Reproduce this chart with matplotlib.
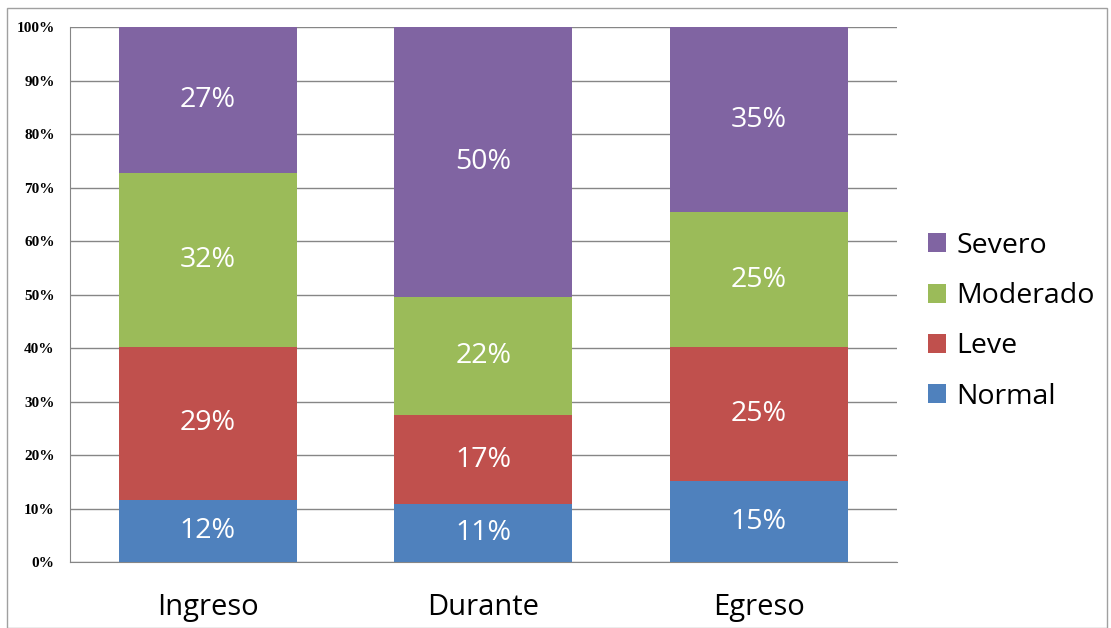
import matplotlib.pyplot as plt
from matplotlib.patches import Rectangle
import numpy as np

# datos
categorias = ['Ingreso', 'Durante', 'Egreso']
series = ['Normal', 'Leve', 'Moderado', 'Severo']
normal = [11.6, 10.8, 15.1]
leve = [28.6, 16.7, 25.1]
moderado = [32.5, 22.1, 25.2]
severo = [27.3, 50.4, 34.6]
etiquetas = {
    'Normal': ['12%', '11%', '15%'],
    'Leve': ['29%', '17%', '25%'],
    'Moderado': ['32%', '22%', '25%'],
    'Severo': ['27%', '50%', '35%'],
}
colores = {'Normal': '#4f81bd', 'Leve': '#c0504d', 'Moderado': '#9bbb59', 'Severo': '#8064a2'}
yticks = np.arange(0, 101, 10)

fig = plt.figure(figsize=(11.11, 6.28), dpi=100)
ax = fig.add_axes([0.063, 0.105, 0.744, 0.852])

x = np.arange(len(categorias))
base = np.zeros(len(categorias))
for nombre, vals in zip(series, [normal, leve, moderado, severo]):
    vals = np.array(vals)
    ax.bar(x, vals, 0.645, bottom=base, color=colores[nombre], label=nombre, zorder=3)
    for xi, b, v, t in zip(x, base, vals, etiquetas[nombre]):
        ax.text(xi, b + v / 2, t, ha='center', va='center', color='white',
                fontsize=20.5, family='Open Sans', zorder=4)
    base = base + vals

ax.set_xlim(-0.5, 2.5)
ax.set_ylim(0, 100)
ax.set_yticks(yticks)
ax.set_yticklabels([f'{v}%' for v in yticks], family='Liberation Serif',
                   fontweight='bold', fontsize=11)
ax.set_xticks(x)
ax.set_xticklabels(categorias, family='Open Sans', fontsize=21)
ax.tick_params(axis='x', length=0, pad=22)
ax.tick_params(axis='y', length=0, pad=11)
ax.yaxis.grid(True, color='#868686', linewidth=1, zorder=0)
for s in ['top', 'right']:
    ax.spines[s].set_visible(False)
ax.spines['left'].set_color('#868686')
ax.spines['bottom'].set_color('#868686')

h, l = ax.get_legend_handles_labels()
ax.legend(h[::-1], l[::-1], loc='center left', bbox_to_anchor=(1.01, 0.45),
          frameon=False, prop={'family': 'Open Sans', 'size': 20.5},
          handlelength=0.65, handleheight=0.65, handletextpad=0.35, labelspacing=0.78,
          borderpad=0.3)

# borde exterior
fig.patches.append(Rectangle((0.0065, 0.0), 0.99, 0.987, transform=fig.transFigure,
                             fill=False, edgecolor='#a0a0a0', linewidth=1))

fig.savefig('out.png', dpi=100)
